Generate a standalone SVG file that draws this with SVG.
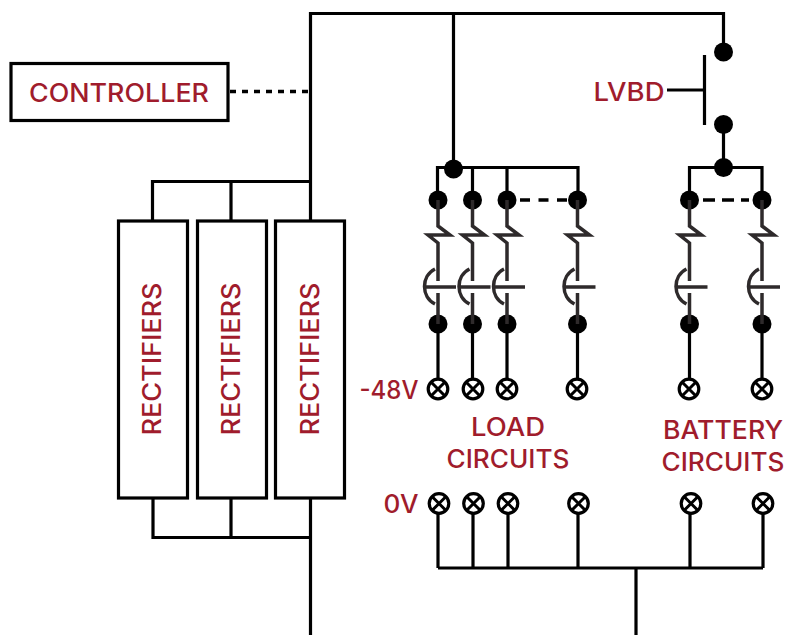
<svg xmlns="http://www.w3.org/2000/svg" width="785" height="635" viewBox="0 0 785 635">
<style>
.w{fill:none;stroke:#000;stroke-width:3.200}
.b{fill:#fff;stroke:#000;stroke-width:3.200}
.d{fill:none;stroke:#000;stroke-width:3.500}
.s{fill:none;stroke:#2e2a2b;stroke-width:3.500}
.t{font-family:"Inter","Liberation Sans",sans-serif;font-size:25px;font-weight:500;fill:#a01c2c;text-anchor:middle}
</style>
<defs>
<circle id="dot" r="9.500" fill="#000"/>
<g id="term"><circle r="9.800" fill="#fff" stroke="#000" stroke-width="3.200"/><path d="M-7-7L7 7M-7 7L7-7" stroke="#000" stroke-width="3"/></g>
<g id="brk"><use href="#dot" y="0"/><use href="#dot" y="124"/>
<path class="s" d="M0 0V26L12 35H-10L0 43V81M0 93V124M-14 87H18M-3 69C-17 76-17 97-3 104"/></g>
</defs>
<g id="connectors">
<path class="w" d="M310.500 635V13.500H723.500V52M453.500 13V169M437.500 200V167.500H578V200M472.500 167V200M507 167V200"/>
<path class="w" d="M723.500 124V167M689.500 200V167.500H762V200"/>
<path class="w" d="M438 324V380M472.500 324V380M507 324V380M577.500 324V380M689.500 324V380M762 324V380"/>
<path class="w" d="M438 511V568M473 511V568M508 511V568M578 511V568M690 511V568M763 511V568M438 568H763M636 568V635"/>
<path class="w" d="M152.500 221V181.500H310M231 181V221M153 498V537.500H310M231 498V537"/>
<path class="d" stroke-dasharray="6 6" d="M230 91.500H310"/>
<path class="d" stroke-dasharray="10 8.500" d="M520 200H567"/>
<path class="d" stroke-dasharray="12 7" d="M703 200H749"/>
<path class="w" d="M667 90H704.500M704.500 55V125"/>
<use href="#dot" x="723.500" y="52"/><use href="#dot" x="723.500" y="124.500"/><use href="#dot" x="723.500" y="167.500"/><use href="#dot" x="453.500" y="169"/>
</g>
<g id="controller"><rect class="b" x="11" y="63.500" width="217" height="57"/><text class="t" x="119" y="102" textLength="180" lengthAdjust="spacingAndGlyphs">CONTROLLER</text></g>
<g id="rectifier1"><rect class="b" x="118.500" y="221" width="69" height="277"/><text class="t" transform="translate(161 359) rotate(-90)" textLength="153" lengthAdjust="spacingAndGlyphs">RECTIFIERS</text></g>
<g id="rectifier2"><rect class="b" x="197.500" y="221" width="69" height="277"/><text class="t" transform="translate(240 359) rotate(-90)" textLength="153" lengthAdjust="spacingAndGlyphs">RECTIFIERS</text></g>
<g id="rectifier3"><rect class="b" x="275.500" y="221" width="69" height="277"/><text class="t" transform="translate(319 359) rotate(-90)" textLength="153" lengthAdjust="spacingAndGlyphs">RECTIFIERS</text></g>
<g id="lvbd"><text class="t" x="629" y="101" textLength="71" lengthAdjust="spacingAndGlyphs">LVBD</text></g>
<g id="load-breakers"><use href="#brk" x="438" y="200"/><use href="#brk" x="472.500" y="200"/><use href="#brk" x="507" y="200"/><use href="#brk" x="577.500" y="200"/></g>
<g id="battery-breakers"><use href="#brk" x="689.500" y="200"/><use href="#brk" x="762" y="200"/></g>
<g id="terminals-48v"><use href="#term" x="438" y="389"/><use href="#term" x="473" y="389"/><use href="#term" x="507" y="389"/><use href="#term" x="577" y="389"/><use href="#term" x="689" y="389"/><use href="#term" x="762" y="389"/></g>
<g id="terminals-0v"><use href="#term" x="439" y="503.500"/><use href="#term" x="473.500" y="503.500"/><use href="#term" x="508" y="503.500"/><use href="#term" x="578.500" y="503.500"/><use href="#term" x="691" y="503.500"/><use href="#term" x="763" y="503.500"/></g>
<g id="labels">
<text class="t" x="389" y="399" textLength="59" lengthAdjust="spacingAndGlyphs">-48V</text>
<text class="t" x="401" y="513" textLength="35" lengthAdjust="spacingAndGlyphs">0V</text>
<text class="t" x="508" y="436" textLength="74" lengthAdjust="spacingAndGlyphs">LOAD</text>
<text class="t" x="508" y="468" textLength="123" lengthAdjust="spacingAndGlyphs">CIRCUITS</text>
<text class="t" x="723" y="439" textLength="120" lengthAdjust="spacingAndGlyphs">BATTERY</text>
<text class="t" x="723" y="471" textLength="123" lengthAdjust="spacingAndGlyphs">CIRCUITS</text>
</g>
</svg>
